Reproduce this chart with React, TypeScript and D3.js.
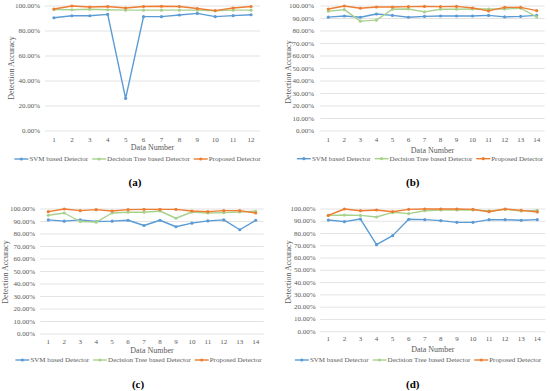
import React, { useEffect, useRef } from "react";
import * as d3 from "d3";

// data read from the four sub-figures
const dataNumbers12 = ["1", "2", "3", "4", "5", "6", "7", "8", "9", "10", "11", "12"];
const dataNumbers14 = ["1", "2", "3", "4", "5", "6", "7", "8", "9", "10", "11", "12", "13", "14"];
const seriesNames = ["SVM based Detector", "Decision Tree based Detector", "Proposed Detector"];
const seriesColors = ["#5B9BD5", "#A9D18E", "#ED7D31"];

const svmA = [90.6, 92.2, 92.2, 93.3, 26.1, 91.5, 91.5, 92.8, 94.1, 91.5, 92.3, 93.0];
const treeA = [97.2, 97.0, 97.4, 97.0, 96.7, 96.7, 96.7, 96.7, 96.7, 96.2, 96.7, 96.7];
const propA = [97.6, 100, 99.2, 99.6, 98.4, 99.6, 99.8, 99.6, 98.0, 96.3, 98.4, 99.6];

const svmB = [91.1, 92.0, 91.0, 93.6, 92.5, 91.0, 91.7, 92.0, 92.0, 92.0, 92.5, 91.3, 91.7, 92.5];
const treeB = [95.8, 97.1, 87.9, 88.7, 97.4, 97.6, 95.3, 97.4, 97.4, 97.6, 97.6, 97.6, 98.2, 91.3];
const propB = [97.6, 100, 98.2, 99.2, 99.2, 99.5, 99.7, 99.5, 99.7, 98.4, 96.1, 98.9, 98.9, 96.3];

const svmC = [91.3, 90.3, 91.3, 90.0, 90.3, 91.0, 86.8, 91.0, 85.8, 88.7, 90.5, 91.3, 83.4, 91.0];
const treeC = [95.0, 96.8, 90.0, 89.5, 96.8, 97.4, 97.4, 98.4, 92.6, 97.6, 96.8, 97.1, 97.6, 98.2];
const propC = [97.9, 100, 98.7, 99.5, 98.4, 99.5, 99.7, 99.7, 99.7, 98.4, 97.9, 98.7, 98.7, 96.8];

const svmD = [91.0, 89.7, 91.8, 70.9, 78.3, 91.6, 91.3, 90.5, 89.1, 89.1, 91.3, 91.3, 90.8, 91.3];
const treeD = [94.8, 95.1, 94.8, 93.5, 97.3, 96.2, 98.6, 99.2, 99.2, 99.2, 98.4, 99.7, 98.4, 98.9];
const propD = [94.8, 100, 98.6, 99.2, 97.8, 99.7, 100, 100, 100, 99.7, 97.8, 100, 98.9, 97.6];

const ticksA = [0, 20, 40, 60, 80, 100];
const ticks10 = [0, 10, 20, 30, 40, 50, 60, 70, 80, 90, 100];

interface PanelLayout {
  x0: number; x1: number; yTop: number; yBottom: number;
  tickRight: number; titleX: number; titleY: number;
  xLabelY: number; xTitleY: number; legendY: number; legendCx: number;
  capX: number; capY: number;
}

const panels = [
  { cap: "a", cats: dataNumbers12, series: [svmA, treeA, propA], ticks: ticksA,
    lay: { x0: 45, x1: 260, yTop: 6, yBottom: 131, tickRight: 40, titleX: 11, titleY: 68,
      xLabelY: 140, xTitleY: 147.5, legendY: 159, legendCx: 137.5, capX: 135, capY: 182 } },
  { cap: "b", cats: dataNumbers14, series: [svmB, treeB, propB], ticks: ticks10,
    lay: { x0: 320.3, x1: 544.7, yTop: 6, yBottom: 131, tickRight: 314, titleX: 288, titleY: 72,
      xLabelY: 140, xTitleY: 150, legendY: 158.7, legendCx: 420, capX: 412.7, capY: 182 } },
  { cap: "c", cats: dataNumbers14, series: [svmC, treeC, propC], ticks: ticks10,
    lay: { x0: 40.3, x1: 263.7, yTop: 209, yBottom: 334, tickRight: 35, titleX: 5, titleY: 272,
      xLabelY: 341.7, xTitleY: 350.7, legendY: 360, legendCx: 138.5, capX: 138, capY: 384 } },
  { cap: "d", cats: dataNumbers14, series: [svmD, treeD, propD], ticks: ticks10,
    lay: { x0: 320.3, x1: 545.3, yTop: 209, yBottom: 331.7, tickRight: 315.7, titleX: 288, titleY: 272,
      xLabelY: 339, xTitleY: 349.7, legendY: 360, legendCx: 418, capX: 412.7, capY: 384 } },
];

const FONT = "Liberation Serif";
const TEXT_COLOR = "#595959";

const App: React.FC = () => {
  const ref = useRef<SVGSVGElement | null>(null);

  useEffect(() => {
    if (!ref.current) return;
    const svg = d3.select(ref.current);
    svg.selectAll("*").remove();

    panels.forEach((p) => {
      const L: PanelLayout = p.lay;
      const g = svg.append("g").attr("font-family", FONT);

      const x = d3.scalePoint<string>().domain(p.cats).range([L.x0, L.x1]).padding(0.5);
      const y = d3.scaleLinear().domain([0, 100]).range([L.yBottom, L.yTop]);

      // gridlines + y tick labels
      p.ticks.forEach((t) => {
        g.append("line")
          .attr("x1", L.x0).attr("x2", L.x1)
          .attr("y1", y(t)).attr("y2", y(t))
          .attr("stroke", "#D9D9D9").attr("stroke-width", 0.75);
        g.append("text")
          .attr("x", L.tickRight).attr("y", y(t))
          .attr("text-anchor", "end").attr("dominant-baseline", "central")
          .attr("font-size", 7).attr("fill", TEXT_COLOR)
          .text(`${t.toFixed(2)}%`);
      });

      // x tick labels
      p.cats.forEach((c) => {
        g.append("text")
          .attr("x", x(c)!).attr("y", L.xLabelY)
          .attr("text-anchor", "middle").attr("dominant-baseline", "central")
          .attr("font-size", 7).attr("fill", TEXT_COLOR)
          .text(c);
      });

      // axis titles
      g.append("text")
        .attr("x", (L.x0 + L.x1) / 2).attr("y", L.xTitleY)
        .attr("text-anchor", "middle").attr("dominant-baseline", "central")
        .attr("font-size", 8).attr("fill", TEXT_COLOR)
        .text("Data Number");
      g.append("text")
        .attr("transform", `translate(${L.titleX},${L.titleY}) rotate(-90)`)
        .attr("text-anchor", "middle").attr("dominant-baseline", "central")
        .attr("font-size", 8).attr("fill", TEXT_COLOR)
        .text("Detection Accuracy");

      // series
      const line = d3.line<number>()
        .x((_, i) => x(p.cats[i])!)
        .y((d) => y(d));
      p.series.forEach((vals, si) => {
        g.append("path")
          .attr("d", line(vals))
          .attr("fill", "none")
          .attr("stroke", seriesColors[si])
          .attr("stroke-width", 1.4)
          .attr("stroke-linejoin", "round");
        g.selectAll(null)
          .data(vals)
          .enter()
          .append("circle")
          .attr("cx", (_, i) => x(p.cats[i])!)
          .attr("cy", (d) => y(d))
          .attr("r", 1.6)
          .attr("fill", seriesColors[si]);
      });

      // legend, centered under the plot
      const leg = g.append("g");
      let cursor = 0;
      seriesNames.forEach((name, si) => {
        const item = leg.append("g").attr("transform", `translate(${cursor},0)`);
        item.append("line")
          .attr("x1", 0).attr("x2", 14).attr("y1", 0).attr("y2", 0)
          .attr("stroke", seriesColors[si]).attr("stroke-width", 1.4);
        item.append("circle").attr("cx", 7).attr("cy", 0).attr("r", 1.6).attr("fill", seriesColors[si]);
        const txt = item.append("text")
          .attr("x", 15).attr("y", 0)
          .attr("dominant-baseline", "central")
          .attr("font-size", 7).attr("fill", TEXT_COLOR)
          .text(name);
        const w = (txt.node() as SVGTextElement).getComputedTextLength();
        cursor += 15 + w + 4;
      });
      const total = cursor - 4;
      leg.attr("transform", `translate(${L.legendCx - total / 2},${L.legendY})`);

      // caption
      g.append("text")
        .attr("x", L.capX).attr("y", L.capY)
        .attr("text-anchor", "middle").attr("dominant-baseline", "central")
        .attr("font-size", 11).attr("font-weight", "bold").attr("fill", "#000")
        .text(`(${p.cap})`);
    });
  }, []);

  return (
    <div style={{ position: "absolute", left: 0, top: 0, width: 550, height: 391, background: "#fff" }}>
      <svg ref={ref} width={550} height={391}></svg>
    </div>
  );
};

export default App;
